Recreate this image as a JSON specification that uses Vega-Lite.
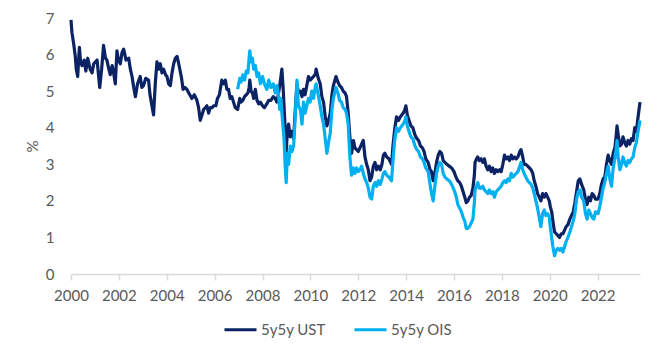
{
  "$schema": "https://vega.github.io/schema/vega-lite/v6.json",
  "width": 569,
  "height": 256,
  "autosize": {"type": "none"},
  "padding": {"left": 71, "top": 18, "right": 19, "bottom": 81},
  "background": "white",
  "config": {
    "view": {"stroke": null},
    "font": "Lato",
    "axis": {"labelFont": "Lato", "labelColor": "#595959", "labelFontSize": 15, "titleFont": "Lato", "titleColor": "#595959", "titleFontWeight": "normal", "titleFontSize": 15, "labelOverlap": false},
    "legend": {"labelFont": "Lato", "labelColor": "#595959", "labelFontSize": 15}
  },
  "data": {"values": [
    {"d":2000.00,"u":6.95},{"d":2000.04,"u":6.60},{"d":2000.11,"u":6.30},{"d":2000.18,"u":5.95},{"d":2000.22,"u":5.60},{"d":2000.28,"u":5.40},{"d":2000.35,"u":6.20},{"d":2000.40,"u":5.80},{"d":2000.46,"u":5.70},{"d":2000.55,"u":5.85},{"d":2000.62,"u":5.55},{"d":2000.70,"u":5.90},{"d":2000.80,"u":5.60},{"d":2000.88,"u":5.50},{"d":2000.95,"u":5.75},
    {"d":2001.09,"u":5.85},{"d":2001.20,"u":5.10},{"d":2001.28,"u":5.60},{"d":2001.36,"u":6.25},{"d":2001.44,"u":5.90},{"d":2001.50,"u":5.85},{"d":2001.58,"u":5.60},{"d":2001.64,"u":5.45},{"d":2001.72,"u":5.70},{"d":2001.78,"u":5.50},{"d":2001.85,"u":5.20},{"d":2001.92,"u":6.10},{"d":2001.98,"u":5.85},
    {"d":2002.06,"u":5.75},{"d":2002.13,"u":6.05},{"d":2002.20,"u":6.15},{"d":2002.30,"u":5.85},{"d":2002.41,"u":5.90},{"d":2002.48,"u":5.60},{"d":2002.55,"u":5.40},{"d":2002.62,"u":5.10},{"d":2002.69,"u":4.85},{"d":2002.78,"u":5.20},{"d":2002.89,"u":5.40},{"d":2002.96,"u":5.10},
    {"d":2003.03,"u":5.15},{"d":2003.12,"u":5.35},{"d":2003.24,"u":5.30},{"d":2003.30,"u":4.90},{"d":2003.38,"u":4.60},{"d":2003.45,"u":4.35},{"d":2003.52,"u":5.20},{"d":2003.59,"u":5.80},{"d":2003.66,"u":5.60},{"d":2003.73,"u":5.75},{"d":2003.80,"u":5.50},{"d":2003.87,"u":5.60},{"d":2003.95,"u":5.45},
    {"d":2004.01,"u":5.40},{"d":2004.08,"u":5.20},{"d":2004.15,"u":5.15},{"d":2004.22,"u":5.50},{"d":2004.29,"u":5.75},{"d":2004.36,"u":5.90},{"d":2004.43,"u":5.95},{"d":2004.50,"u":5.75},{"d":2004.56,"u":5.55},{"d":2004.62,"u":5.35},{"d":2004.68,"u":5.05},{"d":2004.76,"u":5.10},{"d":2004.84,"u":5.05},{"d":2004.92,"u":4.95},
    {"d":2005.05,"u":4.80},{"d":2005.15,"u":4.90},{"d":2005.26,"u":4.75},{"d":2005.33,"u":4.55},{"d":2005.40,"u":4.20},{"d":2005.47,"u":4.35},{"d":2005.54,"u":4.50},{"d":2005.62,"u":4.55},{"d":2005.68,"u":4.60},{"d":2005.75,"u":4.40},{"d":2005.82,"u":4.55},{"d":2005.90,"u":4.55},{"d":2005.96,"u":4.60},
    {"d":2006.05,"u":4.60},{"d":2006.12,"u":4.80},{"d":2006.20,"u":4.90},{"d":2006.30,"u":5.30},{"d":2006.38,"u":5.20},{"d":2006.45,"u":5.30},{"d":2006.51,"u":5.05},{"d":2006.58,"u":5.05},{"d":2006.65,"u":4.80},{"d":2006.72,"u":4.85},{"d":2006.79,"u":4.70},{"d":2006.86,"u":4.55},
    {"d":2006.96,"u":4.50,"o":5.05},{"d":2007.05,"u":4.80,"o":5.35},{"d":2007.10,"u":4.70,"o":5.25},{"d":2007.18,"u":4.75,"o":5.45},{"d":2007.25,"u":4.85,"o":5.30},{"d":2007.32,"u":4.90,"o":5.55},{"d":2007.39,"u":4.95,"o":5.50},{"d":2007.44,"u":5.10,"o":5.90},{"d":2007.47,"u":5.30,"o":6.10},{"d":2007.52,"u":5.00,"o":5.80},{"d":2007.58,"u":4.95,"o":5.90},{"d":2007.63,"u":4.80,"o":5.60},{"d":2007.70,"u":5.05,"o":5.70},{"d":2007.77,"u":4.75,"o":5.40},{"d":2007.84,"u":4.65,"o":5.50},{"d":2007.91,"u":4.70,"o":5.20},
    {"d":2008.00,"u":4.60,"o":5.40},{"d":2008.08,"u":4.55,"o":5.20},{"d":2008.18,"u":4.65,"o":5.05},{"d":2008.26,"u":4.75,"o":5.30},{"d":2008.35,"u":4.75,"o":5.10},{"d":2008.45,"u":4.85,"o":5.20},{"d":2008.53,"u":4.80,"o":4.95},{"d":2008.60,"u":4.70,"o":5.15},{"d":2008.67,"u":4.95,"o":4.90},{"d":2008.72,"u":5.15,"o":4.50},{"d":2008.76,"u":5.35,"o":4.80},{"d":2008.81,"u":5.60,"o":4.40},{"d":2008.86,"u":5.10,"o":4.00},{"d":2008.90,"u":4.60,"o":3.70},{"d":2008.95,"u":3.90,"o":2.90},{"d":2008.99,"u":3.35,"o":2.50},
    {"d":2009.04,"u":3.90,"o":3.30},{"d":2009.09,"u":4.10,"o":3.00},{"d":2009.16,"u":3.75,"o":3.50},{"d":2009.23,"u":3.90,"o":3.35},{"d":2009.30,"u":3.70,"o":3.50},{"d":2009.36,"u":4.40,"o":4.20},{"d":2009.44,"u":5.20,"o":5.30},{"d":2009.50,"u":4.95,"o":4.60},{"d":2009.58,"u":5.00,"o":4.50},{"d":2009.65,"u":4.85,"o":4.10},{"d":2009.71,"u":5.05,"o":4.70},{"d":2009.78,"u":4.90,"o":4.40},{"d":2009.85,"u":5.15,"o":4.60},{"d":2009.92,"u":5.40,"o":4.80},{"d":2009.99,"u":5.30,"o":4.70},
    {"d":2010.06,"u":5.35,"o":5.00},{"d":2010.13,"u":5.40,"o":4.80},{"d":2010.20,"u":5.45,"o":5.10},{"d":2010.24,"u":5.60,"o":5.20},{"d":2010.33,"u":5.35,"o":4.90},{"d":2010.41,"u":5.20,"o":4.60},{"d":2010.48,"u":4.85,"o":4.30},{"d":2010.55,"u":4.70,"o":4.10},{"d":2010.62,"u":4.30,"o":3.70},{"d":2010.69,"u":4.05,"o":3.30},{"d":2010.76,"u":4.20,"o":3.60},{"d":2010.83,"u":4.40,"o":3.85},{"d":2010.90,"u":4.90,"o":4.50},{"d":2010.96,"u":5.15,"o":4.80},
    {"d":2011.07,"u":5.40,"o":5.10},{"d":2011.15,"u":5.25,"o":4.95},{"d":2011.22,"u":5.15,"o":4.75},{"d":2011.30,"u":5.10,"o":4.70},{"d":2011.37,"u":5.00,"o":4.55},{"d":2011.45,"u":4.95,"o":4.50},{"d":2011.51,"u":4.85,"o":4.40},{"d":2011.58,"u":4.40,"o":4.10},{"d":2011.65,"u":3.75,"o":3.20},{"d":2011.72,"u":3.30,"o":2.70},{"d":2011.80,"u":3.65,"o":2.90},{"d":2011.86,"u":3.45,"o":2.75},{"d":2011.93,"u":3.40,"o":2.90},
    {"d":2012.00,"u":3.35,"o":2.80},{"d":2012.07,"u":3.45,"o":2.85},{"d":2012.14,"u":3.55,"o":2.95},{"d":2012.21,"u":3.65,"o":2.75},{"d":2012.28,"u":3.20,"o":2.60},{"d":2012.35,"u":3.00,"o":2.50},{"d":2012.42,"u":2.85,"o":2.35},{"d":2012.49,"u":2.55,"o":2.10},{"d":2012.56,"u":2.65,"o":2.05},{"d":2012.63,"u":2.95,"o":2.40},{"d":2012.70,"u":3.05,"o":2.50},{"d":2012.77,"u":2.85,"o":2.40},{"d":2012.84,"u":2.95,"o":2.55},{"d":2012.92,"u":2.85,"o":2.45},{"d":2012.99,"u":3.00,"o":2.60},
    {"d":2013.05,"u":3.25,"o":2.75},{"d":2013.11,"u":3.30,"o":2.80},{"d":2013.19,"u":3.20,"o":2.70},{"d":2013.28,"u":3.15,"o":2.65},{"d":2013.39,"u":3.00,"o":2.55},{"d":2013.45,"u":3.50,"o":3.10},{"d":2013.52,"u":3.95,"o":3.65},{"d":2013.60,"u":4.30,"o":4.00},{"d":2013.68,"u":4.20,"o":3.90},{"d":2013.76,"u":4.30,"o":4.00},{"d":2013.88,"u":4.40,"o":4.10},{"d":2013.95,"u":4.50,"o":4.20},{"d":2013.99,"u":4.60,"o":4.30},
    {"d":2014.05,"u":4.35,"o":4.05},{"d":2014.12,"u":4.20,"o":3.90},{"d":2014.20,"u":4.05,"o":3.75},{"d":2014.28,"u":4.00,"o":3.70},{"d":2014.37,"u":3.80,"o":3.50},{"d":2014.45,"u":3.70,"o":3.40},{"d":2014.52,"u":3.65,"o":3.35},{"d":2014.60,"u":3.50,"o":3.20},{"d":2014.68,"u":3.45,"o":3.15},{"d":2014.75,"u":3.35,"o":3.05},{"d":2014.82,"u":3.15,"o":2.90},{"d":2014.92,"u":3.05,"o":2.80},
    {"d":2015.00,"u":2.85,"o":2.45},{"d":2015.06,"u":2.80,"o":2.20},{"d":2015.13,"u":2.55,"o":2.00},{"d":2015.20,"u":2.75,"o":2.40},{"d":2015.27,"u":3.05,"o":2.75},{"d":2015.34,"u":3.25,"o":2.95},{"d":2015.41,"u":3.35,"o":3.05},{"d":2015.48,"u":3.30,"o":3.00},{"d":2015.55,"u":3.10,"o":2.75},{"d":2015.62,"u":3.05,"o":2.65},{"d":2015.70,"u":3.00,"o":2.60},{"d":2015.80,"u":2.95,"o":2.55},{"d":2015.90,"u":2.90,"o":2.45},
    {"d":2016.00,"u":2.80,"o":2.30},{"d":2016.08,"u":2.65,"o":2.15},{"d":2016.16,"u":2.55,"o":1.90},{"d":2016.24,"u":2.50,"o":1.80},{"d":2016.31,"u":2.40,"o":1.70},{"d":2016.38,"u":2.25,"o":1.55},{"d":2016.45,"u":2.10,"o":1.45},{"d":2016.51,"u":1.95,"o":1.25},{"d":2016.58,"u":2.00,"o":1.25},{"d":2016.65,"u":2.10,"o":1.30},{"d":2016.72,"u":2.15,"o":1.40},{"d":2016.79,"u":2.35,"o":1.50},{"d":2016.85,"u":2.70,"o":1.95},{"d":2016.88,"u":3.05,"o":2.30},{"d":2016.94,"u":3.15,"o":2.40},{"d":2016.99,"u":3.20,"o":2.50},
    {"d":2017.06,"u":3.10,"o":2.35},{"d":2017.13,"u":3.15,"o":2.35},{"d":2017.20,"u":3.05,"o":2.40},{"d":2017.27,"u":3.15,"o":2.30},{"d":2017.34,"u":2.95,"o":2.25},{"d":2017.41,"u":2.85,"o":2.20},{"d":2017.48,"u":2.95,"o":2.30},{"d":2017.55,"u":2.80,"o":2.20},{"d":2017.62,"u":2.90,"o":2.25},{"d":2017.69,"u":2.75,"o":2.10},{"d":2017.76,"u":2.85,"o":2.25},{"d":2017.83,"u":2.80,"o":2.30},{"d":2017.90,"u":2.85,"o":2.35},{"d":2017.97,"u":2.80,"o":2.40},
    {"d":2018.04,"u":3.00,"o":2.50},{"d":2018.11,"u":3.25,"o":2.55},{"d":2018.18,"u":3.15,"o":2.50},{"d":2018.25,"u":3.20,"o":2.60},{"d":2018.32,"u":3.10,"o":2.55},{"d":2018.39,"u":3.25,"o":2.75},{"d":2018.46,"u":3.15,"o":2.65},{"d":2018.53,"u":3.20,"o":2.70},{"d":2018.60,"u":3.15,"o":2.75},{"d":2018.67,"u":3.20,"o":2.80},{"d":2018.75,"u":3.35,"o":2.95},{"d":2018.80,"u":3.40,"o":3.05},{"d":2018.87,"u":3.20,"o":2.85},{"d":2018.93,"u":3.00,"o":2.75},
    {"d":2019.00,"u":3.00,"o":2.65},{"d":2019.08,"u":2.95,"o":2.55},{"d":2019.15,"u":2.90,"o":2.50},{"d":2019.22,"u":2.85,"o":2.45},{"d":2019.29,"u":2.75,"o":2.35},{"d":2019.35,"u":2.55,"o":2.20},{"d":2019.42,"u":2.40,"o":2.00},{"d":2019.49,"u":2.20,"o":1.80},{"d":2019.56,"u":2.10,"o":1.55},{"d":2019.63,"u":2.00,"o":1.30},{"d":2019.70,"u":2.20,"o":1.65},{"d":2019.77,"u":2.10,"o":1.75},{"d":2019.84,"u":2.20,"o":1.60},{"d":2019.91,"u":2.10,"o":1.65},{"d":2019.98,"u":2.00,"o":1.55},
    {"d":2020.02,"u":1.85,"o":1.30},{"d":2020.08,"u":1.70,"o":1.00},{"d":2020.13,"u":1.45,"o":0.75},{"d":2020.20,"u":1.15,"o":0.50},{"d":2020.27,"u":1.10,"o":0.65},{"d":2020.34,"u":1.05,"o":0.70},{"d":2020.41,"u":1.00,"o":0.65},{"d":2020.48,"u":1.10,"o":0.70},{"d":2020.55,"u":1.10,"o":0.60},{"d":2020.62,"u":1.20,"o":0.75},{"d":2020.69,"u":1.30,"o":0.90},{"d":2020.76,"u":1.35,"o":1.00},{"d":2020.84,"u":1.50,"o":1.15},{"d":2020.91,"u":1.60,"o":1.30},{"d":2020.98,"u":1.70,"o":1.45},
    {"d":2021.05,"u":1.95,"o":1.65},{"d":2021.12,"u":2.25,"o":2.05},{"d":2021.19,"u":2.55,"o":2.25},{"d":2021.26,"u":2.60,"o":2.30},{"d":2021.33,"u":2.45,"o":2.10},{"d":2021.42,"u":2.30,"o":2.00},{"d":2021.49,"u":2.05,"o":1.65},{"d":2021.56,"u":1.90,"o":1.50},{"d":2021.63,"u":2.10,"o":1.75},{"d":2021.70,"u":2.00,"o":1.65},{"d":2021.77,"u":2.20,"o":1.55},{"d":2021.84,"u":2.15,"o":1.50},{"d":2021.91,"u":2.05,"o":1.70},
    {"d":2022.02,"u":2.05,"o":1.65},{"d":2022.09,"u":2.20,"o":1.85},{"d":2022.16,"u":2.45,"o":2.10},{"d":2022.23,"u":2.60,"o":2.35},{"d":2022.30,"u":2.65,"o":2.50},{"d":2022.37,"u":3.00,"o":2.75},{"d":2022.44,"u":3.25,"o":2.95},{"d":2022.51,"u":3.10,"o":2.60},{"d":2022.58,"u":3.00,"o":2.40},{"d":2022.65,"u":3.30,"o":2.90},{"d":2022.72,"u":3.45,"o":3.15},{"d":2022.77,"u":3.75,"o":3.40},{"d":2022.81,"u":4.05,"o":3.65},{"d":2022.86,"u":3.80,"o":3.20},{"d":2022.93,"u":3.50,"o":2.85},
    {"d":2023.00,"u":3.55,"o":3.00},{"d":2023.06,"u":3.75,"o":3.20},{"d":2023.13,"u":3.60,"o":3.05},{"d":2023.20,"u":3.50,"o":2.95},{"d":2023.27,"u":3.65,"o":3.10},{"d":2023.34,"u":3.55,"o":3.05},{"d":2023.41,"u":3.70,"o":3.15},{"d":2023.48,"u":3.65,"o":3.20},{"d":2023.55,"u":4.00,"o":3.45},{"d":2023.62,"u":3.90,"o":3.60},{"d":2023.69,"u":4.30,"o":3.90},{"d":2023.73,"u":4.50,"o":4.05},{"d":2023.77,"u":4.70,"o":4.20}
  ]},
  "encoding": {
    "x": {
      "field": "d", "type": "quantitative",
      "scale": {"domain": [2000, 2023.77], "nice": false, "zero": false},
      "axis": {"title": null, "values": [2000,2002,2004,2006,2008,2010,2012,2014,2016,2018,2020,2022], "format": "d", "grid": false, "domainColor": "#D9D9D9", "domainWidth": 1.5, "tickColor": "#D9D9D9", "tickSize": 6, "tickWidth": 1.5, "labelPadding": 8, "labelFlush": false, "labelOverlap": false}
    },
    "color": {
      "type": "nominal",
      "scale": {"domain": ["5y5y UST", "5y5y OIS"], "range": ["#0B2265", "#00B0F0"]},
      "legend": {"title": null, "orient": "none", "legendX": 152, "legendY": 294, "direction": "horizontal", "symbolType": "stroke", "symbolSize": 1024, "symbolStrokeWidth": 3, "labelOffset": 3, "columnPadding": 22}
    }
  },
  "layer": [
    {
      "mark": {"type": "line", "strokeWidth": 3.2, "strokeJoin": "round", "interpolate": "linear"},
      "encoding": {
        "y": {
          "field": "u", "type": "quantitative",
          "scale": {"domain": [0, 7], "nice": false},
          "axis": {"title": "%", "values": [0,1,2,3,4,5,6,7], "tickCount": 8, "labelOverlap": false, "grid": false, "domain": false, "ticks": false, "labelPadding": 17, "titleAngle": 270, "titleX": -39, "titleY": 128, "titleAlign": "center", "titleBaseline": "middle"}
        },
        "color": {"datum": "5y5y UST"}
      }
    },
    {
      "transform": [{"filter": "isValid(datum.o)"}],
      "mark": {"type": "line", "strokeWidth": 3.2, "strokeJoin": "round", "interpolate": "linear"},
      "encoding": {
        "y": {
          "field": "o", "type": "quantitative",
          "axis": {"title": "%", "values": [0,1,2,3,4,5,6,7], "tickCount": 8, "labelOverlap": false, "grid": false, "domain": false, "ticks": false, "labelPadding": 17, "titleAngle": 270, "titleX": -39, "titleY": 128, "titleAlign": "center", "titleBaseline": "middle"}
        },
        "color": {"datum": "5y5y OIS"}
      }
    }
  ]
}
